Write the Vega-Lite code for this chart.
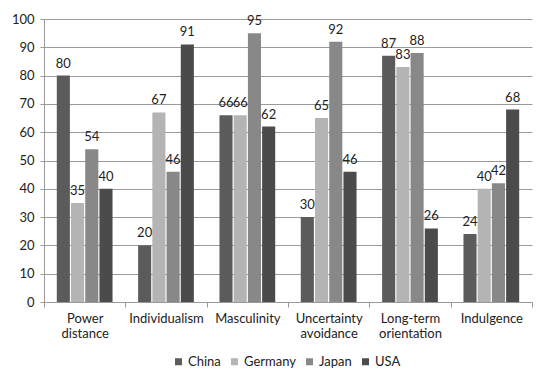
{
  "$schema": "https://vega.github.io/schema/vega-lite/v6.json",
  "width": 488,
  "height": 283,
  "autosize": {"type": "none"},
  "padding": {"left": 44, "top": 19, "right": 18, "bottom": 84},
  "background": "white",
  "data": {
    "values": [
      {"dim": "Power distance", "country": "China", "value": 80},
      {"dim": "Power distance", "country": "Germany", "value": 35},
      {"dim": "Power distance", "country": "Japan", "value": 54},
      {"dim": "Power distance", "country": "USA", "value": 40},
      {"dim": "Individualism", "country": "China", "value": 20},
      {"dim": "Individualism", "country": "Germany", "value": 67},
      {"dim": "Individualism", "country": "Japan", "value": 46},
      {"dim": "Individualism", "country": "USA", "value": 91},
      {"dim": "Masculinity", "country": "China", "value": 66},
      {"dim": "Masculinity", "country": "Germany", "value": 66},
      {"dim": "Masculinity", "country": "Japan", "value": 95},
      {"dim": "Masculinity", "country": "USA", "value": 62},
      {"dim": "Uncertainty avoidance", "country": "China", "value": 30},
      {"dim": "Uncertainty avoidance", "country": "Germany", "value": 65},
      {"dim": "Uncertainty avoidance", "country": "Japan", "value": 92},
      {"dim": "Uncertainty avoidance", "country": "USA", "value": 46},
      {"dim": "Long-term orientation", "country": "China", "value": 87},
      {"dim": "Long-term orientation", "country": "Germany", "value": 83},
      {"dim": "Long-term orientation", "country": "Japan", "value": 88},
      {"dim": "Long-term orientation", "country": "USA", "value": 26},
      {"dim": "Indulgence", "country": "China", "value": 24},
      {"dim": "Indulgence", "country": "Germany", "value": 40},
      {"dim": "Indulgence", "country": "Japan", "value": 42},
      {"dim": "Indulgence", "country": "USA", "value": 68}
    ]
  },
  "encoding": {
    "x": {
      "field": "dim",
      "type": "nominal",
      "sort": null,
      "scale": {"paddingInner": 0, "paddingOuter": 0},
      "axis": {
        "title": null,
        "labelAngle": 0,
        "labelExpr": "split(datum.label, ' ')",
        "labelLineHeight": 15,
        "labelFontSize": 13,
        "labelPadding": 5,
        "tickBand": "extent",
        "tickSize": 5,
        "tickColor": "#999999",
        "domainColor": "#999999",
        "labelColor": "#222222",
        "grid": false
      }
    },
    "xOffset": {
      "field": "country",
      "type": "nominal",
      "scale": {"paddingInner": 0.08, "paddingOuter": 0.9}
    },
    "y": {
      "field": "value",
      "type": "quantitative",
      "scale": {"domain": [0, 100]},
      "axis": {
        "title": null,
        "values": [0, 10, 20, 30, 40, 50, 60, 70, 80, 90, 100],
        "labelFontSize": 13,
        "labelColor": "#222222",
        "labelPadding": 6,
        "tickSize": 4,
        "tickColor": "#999999",
        "domainColor": "#999999",
        "gridColor": "#9a9a9a",
        "gridWidth": 1
      }
    }
  },
  "layer": [
    {
      "mark": {"type": "bar"},
      "encoding": {
        "color": {
          "field": "country",
          "type": "nominal",
          "scale": {
            "domain": ["China", "Germany", "Japan", "USA"],
            "range": ["#5b5b5b", "#b4b4b4", "#888888", "#4b4b4b"]
          },
          "legend": {
            "title": null,
            "orient": "none",
            "direction": "horizontal",
            "legendX": 128,
            "legendY": 336,
            "symbolType": "square",
            "symbolSize": 49,
            "symbolStrokeWidth": 0,
            "labelFontSize": 13,
            "labelColor": "#222222",
            "labelOffset": 3,
            "columnPadding": 7
          }
        }
      }
    },
    {
      "mark": {"type": "text", "baseline": "bottom", "dy": -5, "fontSize": 13, "color": "#222222"},
      "encoding": {"text": {"field": "value", "type": "quantitative"}}
    }
  ],
  "config": {
    "font": "Lato",
    "view": {"stroke": null},
    "axis": {"labelFont": "Lato"},
    "legend": {"labelFont": "Lato"}
  }
}
